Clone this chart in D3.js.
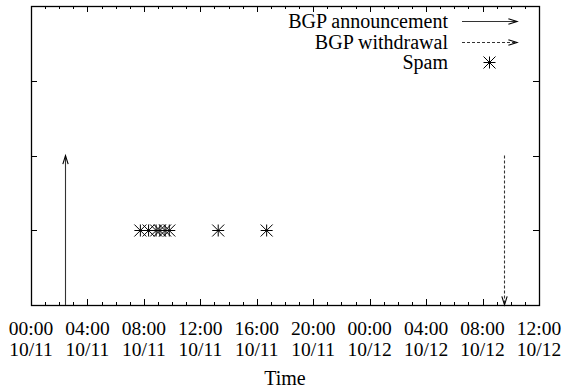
<!DOCTYPE html>
<html>
<head>
<meta charset="utf-8">
<script src="https://cdn.jsdelivr.net/npm/d3@7"></script>
<style>
  html, body { margin: 0; padding: 0; background: #fff; }
  svg { display: block; }
</style>
</head>
<body>
<div id="chart"></div>
<script>
// Event times (month/day hour:minute)
const announcementTimes = ["10/11 02:25"];
const withdrawalTimes = ["10/12 09:30"];
const spamTimes = ["10/11 07:45", "10/11 08:20", "10/11 08:52", "10/11 09:08",
                   "10/11 09:30", "10/11 09:48", "10/11 13:16", "10/11 16:42"];
// Heights on the (unlabelled) y axis
const announcementLevel = [0, 2];
const withdrawalLevel = [2, 0];
const spamLevel = 1;
const xDomain = ["10/11 00:00", "10/12 12:00"];
const yDomain = [0, 4];
const yTicks = [1, 2, 3];
const legendLabels = ["BGP announcement", "BGP withdrawal", "Spam"];
const xTitle = "Time";

const parse = d3.timeParse("%m/%d %H:%M");
const W = 564, H = 389;
const margin = { left: 31, right: 25, top: 6, bottom: 84 };
const fontSize = 20;
const tickFontSize = 19.5;
const fontFamily = "Liberation Serif";

const svg = d3.select("#chart").append("svg")
  .attr("width", W).attr("height", H)
  .attr("font-family", fontFamily);

const x = d3.scaleTime()
  .domain(xDomain.map(parse))
  .range([margin.left, W - margin.right]);
const y = d3.scaleLinear()
  .domain(yDomain)
  .range([H - margin.bottom, margin.top]);

const x0 = x.range()[0], x1 = x.range()[1];
const yb = y.range()[0], yt = y.range()[1];

// Tick marks pointing inward on all four sides
const majorX = x.ticks(d3.timeHour.every(4));
const minorX = x.ticks(d3.timeHour.every(1));
const tickG = svg.append("g").attr("stroke", "#000").attr("stroke-width", 1);
minorX.forEach(t => {
  const px = Math.round(x(t)) + 0.5;
  const len = (t.getHours() % 4 === 0) ? 6 : 3;
  tickG.append("line").attr("x1", px).attr("x2", px).attr("y1", yb).attr("y2", yb - len);
  tickG.append("line").attr("x1", px).attr("x2", px).attr("y1", yt).attr("y2", yt + len);
});
yTicks.forEach(v => {
  const py = Math.round(y(v)) + 0.5;
  tickG.append("line").attr("x1", x0).attr("x2", x0 + 6).attr("y1", py).attr("y2", py);
  tickG.append("line").attr("x1", x1).attr("x2", x1 - 6).attr("y1", py).attr("y2", py);
});

// Frame
svg.append("rect")
  .attr("x", x0 + 0.5).attr("y", yt + 0.5)
  .attr("width", x1 - x0).attr("height", yb - yt)
  .attr("fill", "none").attr("stroke", "#000").attr("stroke-width", 1.3);

// Two-line tick labels: time over date, each line its own text
const fmtTime = d3.timeFormat("%H:%M");
const fmtDate = d3.timeFormat("%m/%d");
const lab = svg.append("g").attr("font-size", tickFontSize).attr("text-anchor", "middle");
majorX.forEach(t => {
  lab.append("text").attr("x", x(t)).attr("y", yb + 30).text(fmtTime(t));
  lab.append("text").attr("x", x(t)).attr("y", yb + 51).text(fmtDate(t));
});

svg.append("text")
  .attr("x", (x0 + x1) / 2).attr("y", H - 4)
  .attr("text-anchor", "middle").attr("font-size", fontSize)
  .text(xTitle);

// Open arrowhead drawn as two strokes meeting at the tip
function arrow(g, xa, ya, xb, yb2, dashed) {
  g.append("line")
    .attr("x1", xa).attr("y1", ya).attr("x2", xb).attr("y2", yb2)
    .attr("stroke", "#333").attr("stroke-width", 1.1)
    .attr("stroke-dasharray", dashed ? "3,2" : null);
  const ang = Math.atan2(yb2 - ya, xb - xa);
  const len = 9, spread = 0.3;
  const pts = [
    [xb - len * Math.cos(ang - spread), yb2 - len * Math.sin(ang - spread)],
    [xb, yb2],
    [xb - len * Math.cos(ang + spread), yb2 - len * Math.sin(ang + spread)]
  ];
  g.append("path")
    .attr("d", d3.line()(pts))
    .attr("fill", "none").attr("stroke", "#000").attr("stroke-width", 1.1);
}

const marks = svg.append("g");
announcementTimes.map(parse).forEach(t => {
  const px = Math.round(x(t)) + 0.5;
  arrow(marks, px, y(announcementLevel[0]), px, y(announcementLevel[1]), false);
});
withdrawalTimes.map(parse).forEach(t => {
  const px = Math.round(x(t)) + 0.5;
  arrow(marks, px, y(withdrawalLevel[0]), px, y(withdrawalLevel[1]), true);
});

// Asterisk point symbol (plus overlaid with a cross)
const starR = 6;
function star(g, cx, cy) {
  const d = `M${cx - starR},${cy}H${cx + starR}M${cx},${cy - starR}V${cy + starR}` +
            `M${cx - starR},${cy - starR}L${cx + starR},${cy + starR}` +
            `M${cx - starR},${cy + starR}L${cx + starR},${cy - starR}`;
  g.append("path").attr("d", d).attr("stroke", "#000").attr("stroke-width", 1).attr("fill", "none");
}
spamTimes.map(parse).forEach(t => star(marks, x(t), Math.round(y(spamLevel)) + 0.5));

// Legend
const lg = svg.append("g").attr("font-size", fontSize);
const legTextX = 448, legLineX0 = 462, legLineX1 = 517;
const legY = [21, 42, 62];
legendLabels.forEach((s, i) => {
  lg.append("text").attr("x", legTextX).attr("y", legY[i]).attr("dy", "0.35em")
    .attr("text-anchor", "end").text(s);
});
arrow(lg, legLineX0, legY[0] + 0.5, legLineX1, legY[0] + 0.5, false);
arrow(lg, legLineX0, legY[1] + 0.5, legLineX1, legY[1] + 0.5, true);
star(lg, (legLineX0 + legLineX1) / 2, legY[2] + 0.5);
</script>
</body>
</html>
